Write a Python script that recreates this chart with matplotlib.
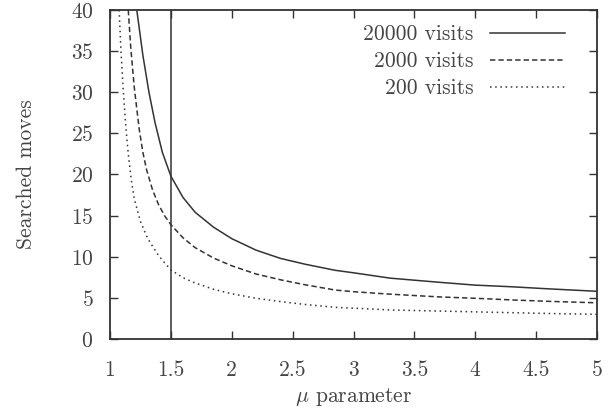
import matplotlib
matplotlib.use("Agg")
import matplotlib.pyplot as plt

# Data
mu_20000 = [1.22, 1.27, 1.32, 1.37, 1.43, 1.50, 1.60, 1.70, 1.85, 2.0, 2.2, 2.4, 2.6,
            2.85, 3.0, 3.3, 3.7, 4.0, 4.3, 4.6, 5.0]
v_20000 = [40, 34.5, 30.0, 26.3, 22.7, 19.8, 17.2, 15.4, 13.6, 12.2, 10.8, 9.8, 9.1,
           8.35, 8.05, 7.4, 6.9, 6.55, 6.35, 6.1, 5.8]

mu_2000 = [1.15, 1.17, 1.20, 1.24, 1.27, 1.30, 1.35, 1.40, 1.45, 1.50, 1.60, 1.70, 1.85,
           2.0, 2.2, 2.4, 2.6, 2.85, 3.0, 3.3, 3.7, 4.0, 4.3, 4.6, 5.0]
v_2000 = [40, 35.5, 30.5, 25.5, 22.7, 20.6, 18.1, 16.3, 14.95, 13.9, 12.3, 11.1, 9.85,
          8.9, 7.9, 7.2, 6.6, 5.95, 5.75, 5.45, 5.12, 4.95, 4.75, 4.58, 4.4]

mu_200 = [1.075, 1.09, 1.11, 1.13, 1.15, 1.175, 1.20, 1.25, 1.31, 1.40, 1.50, 1.60, 1.70,
          1.85, 2.0, 2.2, 2.4, 2.6, 2.85, 3.0, 3.3, 3.7, 4.0, 4.3, 4.6, 5.0]
v_200 = [40, 35.0, 30.0, 25.8, 22.5, 19.3, 17.0, 14.3, 12.2, 10.1, 8.4, 7.45, 6.8,
         6.05, 5.5, 4.95, 4.55, 4.2, 3.85, 3.75, 3.53, 3.4, 3.3, 3.2, 3.1, 3.0]

series_labels = ["20000 visits", "2000 visits", "200 visits"]
x_ticks = [1, 1.5, 2, 2.5, 3, 3.5, 4, 4.5, 5]
x_tick_labels = ["1", "1.5", "2", "2.5", "3", "3.5", "4", "4.5", "5"]
y_ticks = [0, 5, 10, 15, 20, 25, 30, 35, 40]
marker_mu = 1.5

plt.rcParams['font.family'] = 'serif'
plt.rcParams['font.serif'] = ['cmr10', 'DejaVu Serif']
plt.rcParams['mathtext.fontset'] = 'cm'
plt.rcParams['axes.formatter.use_mathtext'] = True

fig = plt.figure(figsize=(6.08, 4.08), dpi=100)
ax = fig.add_axes([110/608, 69/408, 487/608, 329/408])

lc = '#333333'
tc = '#444444'
fs = 15.5
ax.plot(mu_20000, v_20000, color=lc, lw=1.1, linestyle='-', label=series_labels[0])
ax.plot(mu_2000, v_2000, color=lc, lw=1.1, linestyle=(0, (3.5, 2)), label=series_labels[1])
ax.plot(mu_200, v_200, color=lc, lw=1.1, linestyle=(0, (1, 2.4)), label=series_labels[2])
ax.axvline(marker_mu, color=lc, lw=1.1)

ax.set_xlim(1, 5)
ax.set_ylim(0, 40)
ax.set_xticks(x_ticks)
ax.set_xticklabels(x_tick_labels)
ax.set_yticks(y_ticks)
ax.tick_params(direction='in', length=6, width=1, top=True, right=True,
               labelsize=fs, colors=lc, labelcolor=tc)
ax.tick_params(axis='x', pad=15.5)
ax.tick_params(axis='y', pad=12)
for s in ax.spines.values():
    s.set_linewidth(1.3)
    s.set_color(lc)

ax.set_xlabel(r'$\mu$ parameter', fontsize=fs, color=tc, labelpad=4)
ax.set_ylabel('Searched moves', fontsize=fs, color=tc, labelpad=25)

leg = ax.legend(loc='upper right', frameon=False, markerfirst=False, fontsize=fs,
                handlelength=3.5, handletextpad=0.75, labelspacing=0.35,
                bbox_to_anchor=(0.935, 0.955), borderaxespad=0, borderpad=0)
for t in leg.get_texts():
    t.set_color(tc)

fig.savefig('out.png', dpi=100)
